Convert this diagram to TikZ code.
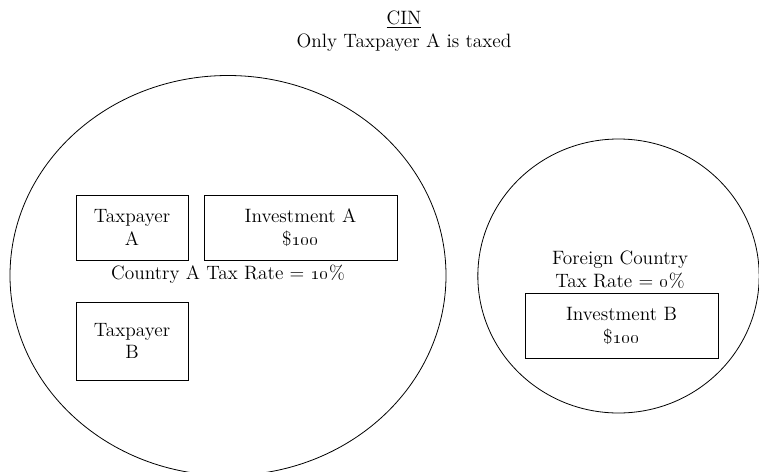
\documentclass[tikz,border=0pt]{standalone}
\usetikzlibrary{shapes.geometric}

\begin{document}
\begin{tikzpicture}[
		x=0.75pt,
		y=-0.75pt,
		every node/.style={
			font=\fontsize{14.5}{17}\selectfont,
			align=center,
			inner sep=0pt,
		},
		country/.style={
			draw,
			ellipse,
			line width=0.6pt,
		},
		holder/.style={
			draw,
			line width=0.5pt,
			minimum width=84pt,
		},
		asset/.style={
			draw,
			line width=0.5pt,
			minimum width=144.75pt,
			minimum height=48.75pt,
		},
	]
	\useasboundingbox (0,0) rectangle (759,471);
	% title
	\node (title) at (404,31) {\underline{CIN}\\Only Taxpayer A is taxed};
	% the two countries
	\node[country, minimum width=327pt, minimum height=300pt] (countryA) at (228,275.5) {};
	\node[country, minimum width=211pt, minimum height=205.5pt] (foreign) at (618.5,276) {};
	% country A
	\node[holder, minimum height=48.75pt] (payerA) at (132,227.5) {Taxpayer\\A};
	\node[asset] (investA) at (300.5,227.5) {Investment A\\\$\oldstylenums{100}};
	\node (rateA) at (228,274) {Country A Tax Rate = \oldstylenums{10}\%};
	\node[holder, minimum height=58.5pt] (payerB) at (132,341) {Taxpayer\\B};
	% foreign country
	\node (rateB) at (620,270) {Foreign Country\\Tax Rate = \oldstylenums{0}\%};
	\node[asset] (investB) at (621.5,326) {Investment B\\\$\oldstylenums{100}};
\end{tikzpicture}
\end{document}
